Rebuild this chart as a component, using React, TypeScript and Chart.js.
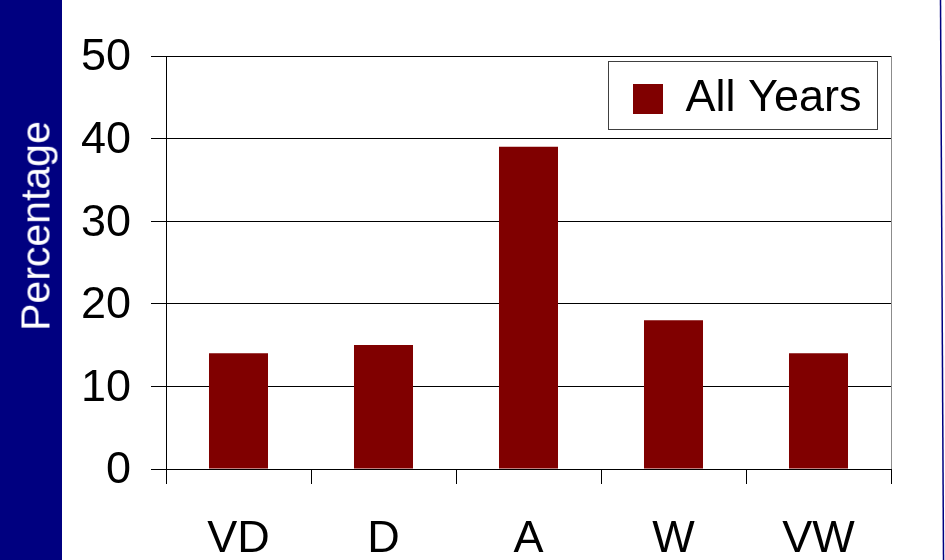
import React, { useEffect, useRef } from 'react';
import { Chart, registerables } from 'chart.js';

Chart.register(...registerables);

const categories = ['VD', 'D', 'A', 'W', 'VW'];
const allYears = [14, 15, 39, 18, 14];
const yTicks = [0, 10, 20, 30, 40, 50];
const seriesLabel = 'All Years';
const yTitle = 'Percentage';

const FONT = "'Liberation Sans', Arial, sans-serif";

export default function App() {
  const ref = useRef<HTMLCanvasElement>(null);

  useEffect(() => {
    document.body.style.margin = '0';
    const canvas = ref.current;
    if (!canvas) return;

    const decor = {
      id: 'decor',
      afterLayout(chart: any) {
        const lg = chart.legend;
        const area = chart.chartArea;
        if (!lg) return;
        const h = lg.legendHitBoxes && lg.legendHitBoxes[0] ? lg.legendHitBoxes[0].height : 45;
        const left = area.right - 258;
        const top = area.top + 43 - h / 2;
        const w = lg.width;
        const hh = lg.height;
        lg.left = left;
        lg.top = top;
        lg.right = left + w;
        lg.bottom = top + Math.max(hh, h + 2);
        lg.width = w;
        lg.height = lg.bottom - top;
      },
      beforeDraw(chart: any) {
        const ctx = chart.ctx;
        ctx.save();
        ctx.fillStyle = '#ffffff';
        ctx.fillRect(0, 0, chart.width, chart.height);
        ctx.fillStyle = '#000080';
        ctx.fillRect(0, 0, 62, chart.height);
        ctx.strokeStyle = '#000080';
        ctx.lineWidth = 1.5;
        ctx.beginPath();
        ctx.moveTo(940.5, 0);
        ctx.lineTo(943.5, chart.height);
        ctx.stroke();
        ctx.restore();
      },
      afterDraw(chart: any) {
        const ctx = chart.ctx;
        const area = chart.chartArea;
        ctx.save();
        ctx.strokeStyle = '#8c8c8c';
        ctx.lineWidth = 1;
        ctx.beginPath();
        ctx.moveTo(Math.round(area.right) + 0.5, area.top);
        ctx.lineTo(Math.round(area.right) + 0.5, area.bottom);
        ctx.stroke();
        const x1 = Math.round(area.left + 442) + 0.5;
        const x2 = Math.round(area.right - 14) + 0.5;
        const y1 = Math.round(area.top + 5) + 0.5;
        const y2 = Math.round(area.top + 73) + 0.5;
        ctx.strokeStyle = '#404040';
        ctx.strokeRect(x1, y1, x2 - x1, y2 - y1);
        ctx.restore();
      },
    };

    const chart = new Chart(canvas, {
      type: 'bar',
      data: {
        labels: categories,
        datasets: [
          {
            label: seriesLabel,
            data: allYears,
            backgroundColor: '#800000',
            borderWidth: 0,
            categoryPercentage: 1,
            barPercentage: 0.407,
          },
        ],
      },
      options: {
        animation: false,
        responsive: false,
        devicePixelRatio: 1,
        layout: { padding: { left: 0, right: 54, top: 56, bottom: 0 } },
        plugins: {
          tooltip: { enabled: false },
          legend: {
            position: 'chartArea' as any,
            align: 'start',
            labels: {
              boxWidth: 30,
              boxHeight: 30,
              padding: 0,
              color: '#000000',
              font: { family: FONT, size: 45 },
            },
          },
        },
        scales: {
          x: {
            grid: {
              offset: true,
              drawOnChartArea: false,
              drawTicks: true,
              tickLength: 15,
              color: '#000000',
            },
            border: { display: true, color: '#000000' },
            ticks: {
              color: '#000000',
              font: { family: FONT, size: 45 },
              padding: 29,
              maxRotation: 0,
            },
            afterFit(scale: any) {
              scale.height = 91;
            },
          },
          y: {
            min: 0,
            max: 50,
            afterBuildTicks(scale: any) {
              scale.ticks = yTicks.map((v) => ({ value: v }));
            },
            grid: {
              color: '#000000',
              tickLength: 15,
              drawTicks: true,
            },
            border: { display: true, color: '#000000' },
            ticks: {
              color: '#000000',
              font: { family: FONT, size: 45 },
              padding: 20,
              labelOffset: 2,
            },
            afterFit(scale: any) {
              scale.width = 166;
            },
          },
        },
      },
      plugins: [decor],
    });

    return () => {
      chart.destroy();
    };
  }, []);

  return (
    <div style={{ position: 'relative', width: 945, height: 560 }}>
      <canvas ref={ref} width={945} height={560} style={{ display: 'block', width: 945, height: 560 }} />
      <div
        style={{
          position: 'absolute',
          left: 36,
          top: 226,
          transform: 'translate(-50%, -50%) rotate(-90deg)',
          color: '#ffffff',
          fontFamily: FONT,
          fontSize: 41,
          lineHeight: '41px',
          whiteSpace: 'nowrap',
        }}
      >
        {yTitle}
      </div>
    </div>
  );
}
